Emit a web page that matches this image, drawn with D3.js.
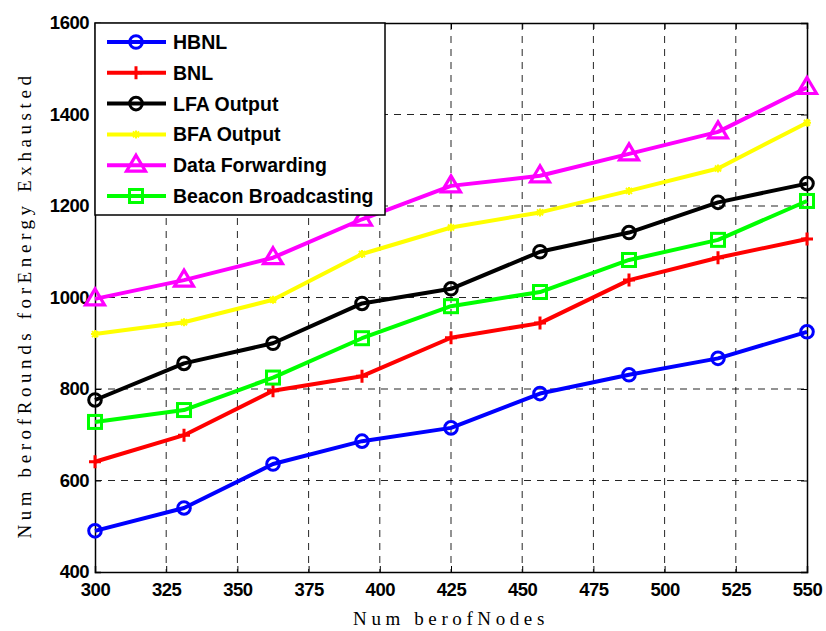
<!DOCTYPE html>
<html lang="en">
<head>
    <meta charset="UTF-8">
    <title>Number of Rounds for Energy Exhausted</title>
    <script src="https://cdn.jsdelivr.net/npm/d3@7"></script>
    <style>
        body { margin: 0; padding: 0; background: white; }
        .tick text { font-family: Arial, "Liberation Sans", sans-serif; font-weight: bold; font-size: 18.5px; fill: #000; letter-spacing: -0.5px; }
        .grid line { stroke: #000; stroke-dasharray: 7,6; stroke-width: 1; opacity: 0.85; }
        .axis-title { font-family: "Liberation Serif", "DejaVu Serif", serif; font-size: 19px; letter-spacing: 4.6px; }
    </style>
</head>
<body>
<script>
    const svgWidth = 826;
    const svgHeight = 631;
    const margin = { top: 23, right: 19, bottom: 59, left: 95 };

    // data
    const nodes = [300, 331.25, 362.5, 393.75, 425, 456.25, 487.5, 518.75, 550];
    const xTicks = [300, 325, 350, 375, 400, 425, 450, 475, 500, 525, 550];
    const yTicks = [400, 600, 800, 1000, 1200, 1400, 1600];

    const hbnl = [490, 540, 636, 686, 715, 790, 831, 867, 925];
    const bnl = [641, 699, 796, 828, 912, 944, 1038, 1087, 1128];
    const lfa = [776, 856, 900, 987, 1019, 1100, 1142, 1208, 1249];
    const bfa = [920, 946, 995, 1095, 1153, 1186, 1233, 1282, 1382];
    const dataFwd = [997, 1038, 1087, 1171, 1244, 1266, 1314, 1362, 1459];
    const beacon = [728, 754, 825, 911, 981, 1012, 1082, 1126, 1211];

    const series = [
        { name: "HBNL", values: hbnl, color: "#0000ff", marker: "circle" },
        { name: "BNL", values: bnl, color: "#ff0000", marker: "plus" },
        { name: "LFA Output", values: lfa, color: "#000000", marker: "circle" },
        { name: "BFA Output", values: bfa, color: "#ffff00", marker: "star" },
        { name: "Data Forwarding", values: dataFwd, color: "#ff00ff", marker: "triangle" },
        { name: "Beacon Broadcasting", values: beacon, color: "#00ff00", marker: "square" }
    ];

    const width = svgWidth - margin.left - margin.right;
    const height = svgHeight - margin.top - margin.bottom;

    const svg = d3.select("body").append("svg")
        .attr("width", svgWidth)
        .attr("height", svgHeight);

    const g = svg.append("g").attr("transform", `translate(${margin.left},${margin.top})`);

    const x = d3.scaleLinear().domain([300, 550]).range([0, width]);
    const y = d3.scaleLinear().domain([400, 1600]).range([height, 0]);

    // grid
    g.append("g").attr("class", "grid")
        .selectAll("line").data(xTicks.slice(1, -1)).enter().append("line")
        .attr("x1", d => x(d)).attr("x2", d => x(d))
        .attr("y1", 0).attr("y2", height);
    g.append("g").attr("class", "grid")
        .selectAll("line").data(yTicks.slice(1, -1)).enter().append("line")
        .attr("x1", 0).attr("x2", width)
        .attr("y1", d => y(d)).attr("y2", d => y(d));

    // axes
    g.append("g").attr("transform", `translate(0,${height})`)
        .call(d3.axisBottom(x).tickValues(xTicks).tickSize(-6).tickPadding(11).tickFormat(d3.format("d")));
    g.append("g")
        .call(d3.axisLeft(y).tickValues(yTicks).tickSize(-6).tickPadding(6).tickFormat(d3.format("d")));
    g.append("g").call(d3.axisTop(x).tickValues(xTicks).tickSize(-6).tickFormat(""));
    g.append("g").attr("transform", `translate(${width},0)`)
        .call(d3.axisRight(y).tickValues(yTicks).tickSize(-6).tickFormat(""));
    g.selectAll(".domain").attr("stroke", "#000").attr("stroke-width", 1.5);
    g.selectAll(".tick line").attr("stroke", "#000");

    // lines
    const line = d3.line()
        .x((d, i) => x(nodes[i]))
        .y(d => y(d));

    function drawMarker(sel, type, color) {
        if (type === "circle") {
            sel.append("circle").attr("r", 6.3).attr("fill", "none")
                .attr("stroke", color).attr("stroke-width", 3);
        } else if (type === "plus") {
            sel.append("path").attr("d", "M-6,0H6M0,-6.5V6.5")
                .attr("stroke", color).attr("stroke-width", 3);
        } else if (type === "star") {
            sel.append("path").attr("d", "M-4,0H4M0,-4V4M-3,-3L3,3M-3,3L3,-3")
                .attr("stroke", color).attr("stroke-width", 2);
        } else if (type === "triangle") {
            sel.append("path").attr("d", "M0,-10L9.5,6H-9.5Z").attr("fill", "none")
                .attr("stroke", color).attr("stroke-width", 3.2).attr("stroke-linejoin", "miter");
        } else if (type === "square") {
            sel.append("rect").attr("x", -6.5).attr("y", -6.5).attr("width", 13).attr("height", 13)
                .attr("fill", "none").attr("stroke", color).attr("stroke-width", 3);
        }
    }

    series.forEach(s => {
        g.append("path")
            .datum(s.values)
            .attr("fill", "none")
            .attr("stroke", s.color)
            .attr("stroke-width", 4)
            .attr("stroke-linejoin", "round")
            .attr("d", line);
        g.selectAll(null).data(s.values).enter().append("g")
            .attr("transform", (d, i) => `translate(${x(nodes[i])},${y(d)})`)
            .each(function () { drawMarker(d3.select(this), s.marker, s.color); });
    });

    // legend
    const legend = g.append("g");
    legend.append("rect")
        .attr("x", 0).attr("y", 0).attr("width", 290).attr("height", 192)
        .attr("fill", "white").attr("stroke", "#000").attr("stroke-width", 1.5);
    series.forEach((s, i) => {
        const ly = 19 + i * 30.8;
        const item = legend.append("g").attr("transform", `translate(0,${ly})`);
        item.append("line").attr("x1", 12).attr("x2", 71).attr("y1", 0).attr("y2", 0)
            .attr("stroke", s.color).attr("stroke-width", 4);
        drawMarker(item.append("g").attr("transform", "translate(41,0)"), s.marker, s.color);
        item.append("text").attr("x", 78).attr("y", 7)
            .attr("font-family", "Arial, 'Liberation Sans', sans-serif")
            .attr("font-weight", "bold").attr("font-size", 19.5)
            .text(s.name);
    });

    // axis titles
    svg.append("text").attr("class", "axis-title")
        .attr("text-anchor", "middle")
        .attr("transform", `translate(31,305) rotate(-90)`)
        .text("Num berofRounds forEnergy Exhausted");
    svg.append("text").attr("class", "axis-title")
        .attr("text-anchor", "middle")
        .attr("x", 451).attr("y", 625)
        .text("Num berofNodes");
</script>
</body>
</html>
